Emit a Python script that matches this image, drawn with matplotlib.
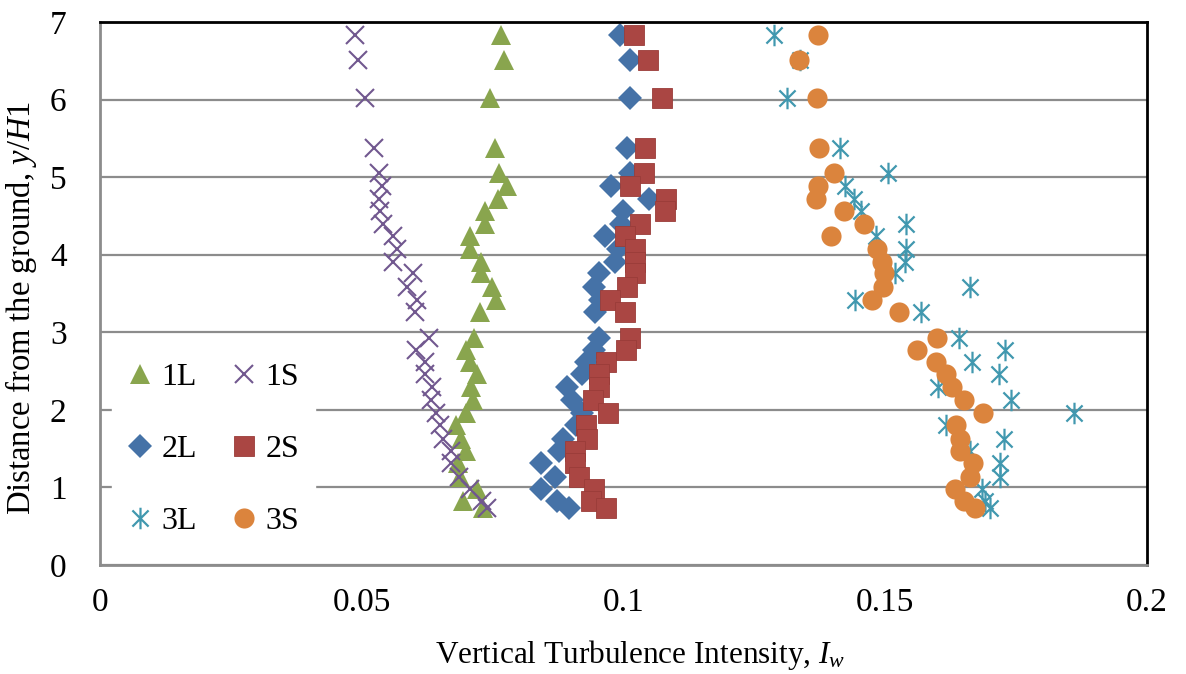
import matplotlib
matplotlib.use("Agg")
import matplotlib.pyplot as plt
from matplotlib.path import Path

plt.rcParams['font.family'] = ['Liberation Serif', 'DejaVu Serif']
plt.rcParams['mathtext.fontset'] = 'custom'
plt.rcParams['mathtext.rm'] = 'Liberation Serif'
plt.rcParams['mathtext.it'] = 'Liberation Serif:italic'

# Measurement heights y/H1
heights = [6.83, 6.51, 6.02, 5.37, 5.05, 4.88, 4.72, 4.56, 4.40, 4.24, 4.07, 3.91,
           3.76, 3.59, 3.42, 3.26, 2.93, 2.77, 2.62, 2.46, 2.29, 2.13, 1.96, 1.80,
           1.63, 1.47, 1.31, 1.14, 0.98, 0.82, 0.74]

iw_1L = [0.0766, 0.0771, 0.0745, 0.0754, 0.0762, 0.0778, 0.0761, 0.0735, 0.0735, 0.0707,
         0.0707, 0.0728, 0.0728, 0.0748, 0.0756, 0.0726, 0.0715, 0.0700, 0.0707, 0.0720,
         0.0709, 0.0713, 0.0700, 0.0680, 0.0690, 0.0700, 0.0684, 0.0687, 0.0720, 0.0693, 0.0732]
iw_1S = [0.0487, 0.0492, 0.0506, 0.0523, 0.0533, 0.0538, 0.0533, 0.0534, 0.0541, 0.0560,
         0.0567, 0.0560, 0.0597, 0.0587, 0.0606, 0.0602, 0.0628, 0.0603, 0.0620, 0.0620,
         0.0635, 0.0633, 0.0642, 0.0650, 0.0655, 0.0671, 0.0671, 0.0686, 0.0706, 0.0729, 0.0739]
iw_2L = [0.0993, 0.1012, 0.1012, 0.1007, 0.1012, 0.0977, 0.1049, 0.0999, 0.0996, 0.0965,
         0.0990, 0.0984, 0.0954, 0.0944, 0.0955, 0.0946, 0.0954, 0.0943, 0.0929, 0.0920,
         0.0892, 0.0901, 0.0920, 0.0910, 0.0885, 0.0877, 0.0843, 0.0869, 0.0843, 0.0873, 0.0896]
iw_2S = [0.1020, 0.1046, 0.1074, 0.1041, 0.1040, 0.1013, 0.1081, 0.1079, 0.1032, 0.1002,
         0.1022, 0.1022, 0.1022, 0.1007, 0.0975, 0.1002, 0.1012, 0.1004, 0.0966, 0.0954,
         0.0954, 0.0941, 0.0971, 0.0929, 0.0931, 0.0907, 0.0907, 0.0915, 0.0944, 0.0937, 0.0967]
iw_3L = [0.1288, 0.1337, 0.1312, 0.1414, 0.1506, 0.1423, 0.1440, 0.1454, 0.1539, 0.1483,
         0.1540, 0.1537, 0.1518, 0.1662, 0.1442, 0.1568, 0.1640, 0.1729, 0.1665, 0.1718,
         0.1601, 0.1741, 0.1860, 0.1617, 0.1726, 0.1662, 0.1720, 0.1720, 0.1684, 0.1690, 0.1700]
iw_3S = [0.1371, 0.1336, 0.1369, 0.1374, 0.1403, 0.1371, 0.1367, 0.1421, 0.1459, 0.1397,
         0.1484, 0.1493, 0.1498, 0.1496, 0.1474, 0.1526, 0.1599, 0.1561, 0.1597, 0.1617,
         0.1627, 0.1651, 0.1687, 0.1635, 0.1642, 0.1642, 0.1667, 0.1662, 0.1633, 0.1651, 0.1671]

x_ticks = [0, 0.05, 0.1, 0.15, 0.2]
x_tick_labels = ['0', '0.05', '0.1', '0.15', '0.2']
y_ticks = [0, 1, 2, 3, 4, 5, 6, 7]

# Excel-style asterisk: vertical bar plus an X
star = Path([(0, -1), (0, 1), (-0.75, -0.75), (0.75, 0.75), (-0.75, 0.75), (0.75, -0.75)],
            [Path.MOVETO, Path.LINETO, Path.MOVETO, Path.LINETO, Path.MOVETO, Path.LINETO])

fig = plt.figure(figsize=(11.86, 6.74), dpi=100)
ax = fig.add_axes([100/1186, 1-565/674, 1047/1186, 543/674])

gc = '#8c8c8c'
ax.set_xlim(0, 0.2)
ax.set_ylim(0, 7)
ax.yaxis.grid(True, color=gc, lw=1.6)
ax.set_axisbelow(True)

series = [
    ('1L', iw_1L, dict(marker='^', color='#89A54E', ms=14.5, mew=0, ls='none')),
    ('1S', iw_1S, dict(marker='x', color='#71588F', ms=13.5, mew=1.5, ls='none')),
    ('2L', iw_2L, dict(marker='D', color='#4572A7', ms=12, mew=0, ls='none')),
    ('2S', iw_2S, dict(marker='s', color='#AA4643', ms=14, mew=0.6, mec='#9a3c39', ls='none')),
    ('3L', iw_3L, dict(marker=star, color='#4198AF', ms=15.5, mew=1.6, ls='none')),
    ('3S', iw_3S, dict(marker='o', color='#DB843D', ms=14.5, mew=0, ls='none')),
]
handles = {}
for name, vals, kw in series:
    h, = ax.plot(vals, heights, label=name, **kw)
    handles[name] = h

ax.set_xticks(x_ticks)
ax.set_xticklabels(x_tick_labels)
ax.set_yticks(y_ticks)
ax.tick_params(axis='both', length=0, labelsize=24)
ax.tick_params(axis='x', pad=16)
ax.tick_params(axis='y', pad=24)

for s in ['left', 'bottom']:
    ax.spines[s].set_color(gc)
    ax.spines[s].set_linewidth(2)
for s in ['top', 'right']:
    ax.spines[s].set_color('black')
    ax.spines[s].set_linewidth(2)

order = ['1L', '2L', '3L', '1S', '2S', '3S']
leg = ax.legend([handles[k] for k in order], order, ncol=2, loc='upper left',
                bbox_to_anchor=(12/1047, (565-347)/543), fontsize=23,
                frameon=True, fancybox=False, framealpha=1, edgecolor='white',
                facecolor='white', handlelength=0.75, handletextpad=0.3,
                columnspacing=1.1, labelspacing=1.33, borderpad=0.5,
                borderaxespad=0)

fig.text(21/1186, 1-308/674, 'Distance from the ground, $\\mathit{y/H1}$',
         rotation=90, ha='center', va='center', fontsize=23.5)
fig.text(640/1186, 1-655/674, 'Vertical Turbulence Intensity, $\\mathit{I_w}$',
         ha='center', va='center', fontsize=22.5)

fig.savefig('out.png', dpi=100)
